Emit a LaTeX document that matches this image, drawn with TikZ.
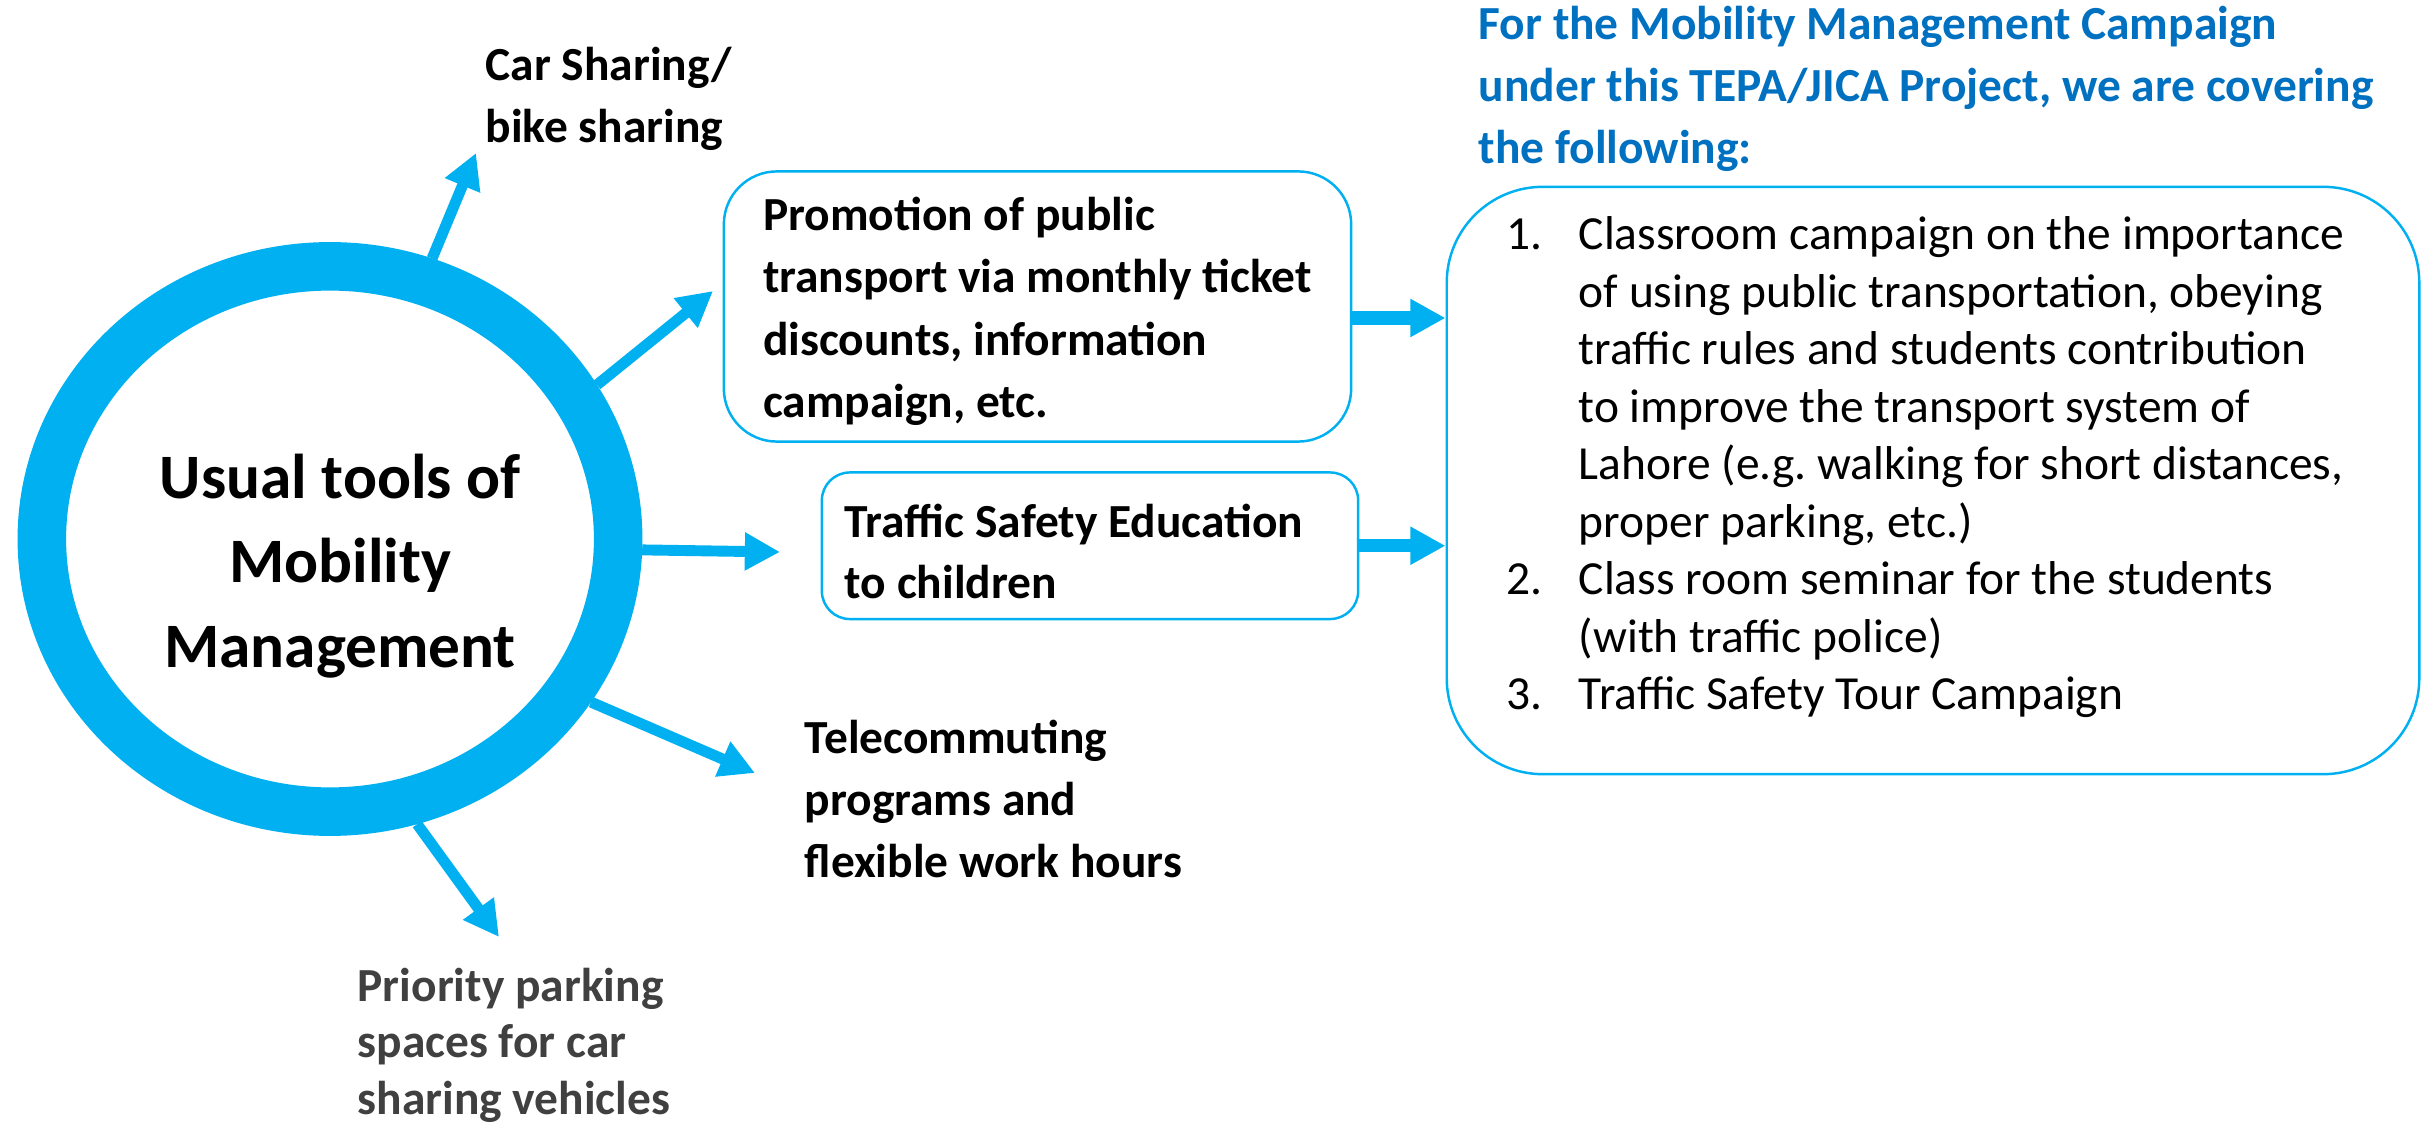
\documentclass[tikz,border=0pt]{standalone}
\usepackage{fontspec}
\setmainfont{Carlito}
\usetikzlibrary{arrows.meta,shapes.geometric,positioning}
\definecolor{mmcyan}{RGB}{0,176,240}
\definecolor{mmblue}{RGB}{0,112,192}
\definecolor{mmgray}{RGB}{64,64,64}
\frenchspacing
\setlength{\parindent}{0pt}
\newcommand{\padbelow}[1]{\rule[-#1]{0pt}{#1}}
\newcommand{\padabove}[1]{\rule{0pt}{#1}}
\tikzset{
  ring/.style={ellipse,draw=mmcyan,line width=0.485cm,minimum width=5.76cm,minimum height=5.45cm,inner sep=0pt},
  tool/.style={draw=mmcyan,line width=0.7pt,align=left,inner ysep=0.05cm,font=\bfseries\fontsize{13.5}{17.8}\selectfont},
  note/.style={anchor=north west,inner sep=0pt,align=left,font=\bfseries\fontsize{13.5}{17.7}\selectfont},
  flow/.style={draw=mmcyan,line width=3.1pt,-{Triangle[length=10pt,width=10.2pt]}}
}
\begin{document}
\begin{tikzpicture}[x=0.01cm,y=-0.01cm]
\useasboundingbox (0,0) rectangle (2431,1122);
% hub ring and its text
\node[ring] (hub) at (330,539) {};
\node[inner sep=0pt,align=center,font=\bfseries\fontsize{18}{24}\selectfont] (hubtext) at (340,566) {Usual tools of\\Mobility\\Management};
% boxes
\node[tool,rounded corners=0.53cm,minimum width=6.27cm,minimum height=2.7cm] (promo) at (1037.5,306.5)
  {\padabove{0.5cm}Promotion of public\\transport via monthly ticket\\discounts, information\\campaign, etc.\padbelow{0.15cm}};
\node[tool,align=flush left,font=\bfseries\fontsize{13.5}{17.2}\selectfont,rounded corners=0.28cm,text width=4.9cm,inner xsep=0.23cm,minimum height=1.465cm] (traffic) at (1090,545.75)
  {\padabove{0.54cm}Traffic Safety Education\\to children\padbelow{0.1cm}};
\node[draw=mmcyan,line width=0.7pt,rounded corners=0.96cm,text width=8.52cm,inner xsep=0.6cm,minimum height=5.87cm,
  align=flush left,font=\fontsize{13.5}{16.35}\selectfont] (plan) at (1933,480.5)
  {\makebox[0.72cm][l]{1.}Classroom campaign on the importance\\
   \hspace*{0.72cm}of using public transportation, obeying\\
   \hspace*{0.72cm}traffic rules and students contribution\\
   \hspace*{0.72cm}to improve the transport system of\\
   \hspace*{0.72cm}Lahore (e.g. walking for short distances,\\
   \hspace*{0.72cm}proper parking, etc.)\\
   \makebox[0.72cm][l]{2.}Class room seminar for the students\\
   \hspace*{0.72cm}(with traffic police)\\
   \makebox[0.72cm][l]{3.}Traffic Safety Tour Campaign\padbelow{0.34cm}};
% free labels
\node[note] (car) at (485,46) {Car Sharing/\\bike sharing};
\node[note] (tele) at (804,719) {Telecommuting\\programs and\\flexible work hours};
\node[note,text=mmgray,font=\bfseries\fontsize{13.5}{16.1}\selectfont] (prio) at (357,967) {Priority parking\\spaces for car\\sharing vehicles};
\node[note,text=mmblue] (title) at (1478,5) {For the Mobility Management Campaign\\under this TEPA/JICA Project, we are covering\\the following:};
% arrows
\coordinate (carend) at (476,153);
\coordinate (promoend) at (713,291);
\coordinate (trafficend) at (780,552);
\coordinate (teleend) at (755,773);
\coordinate (prioend) at (499,937);
\draw[flow] (hub.70.6) -- (carend);
\draw[flow] (hub.30.4) -- (promoend);
\draw[flow] (hub.-2.6) -- (trafficend);
\draw[flow] (hub.-32.7) -- (teleend);
\draw[flow] (hub.-73.4) -- (prioend);
\draw[flow,line width=3.7pt] (promo.east |- 0,318) -- (plan.west |- 0,318);
\draw[flow,line width=3.7pt] (traffic.east) -- (plan.west |- traffic.east);
\end{tikzpicture}
\end{document}
